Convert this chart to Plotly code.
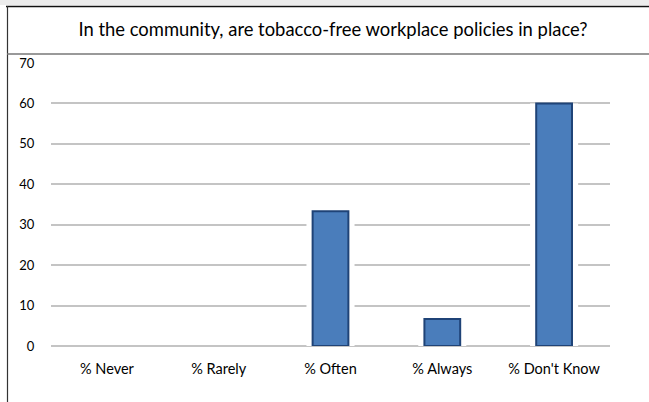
import plotly.graph_objects as go

categories = ["% Never", "% Rarely", "% Often", "% Always", "% Don't Know"]
values = [0, 0, 33.3, 6.7, 60]
y_ticks = [0, 10, 20, 30, 40, 50, 60, 70]
title_text = "In the community, are tobacco-free workplace policies in place?"

W, H = 649, 402
ML, MR, MT, MB = 51, 39, 63, 56
PW, PH = W - ML - MR, H - MT - MB

border_widths = [2 if v > 0 else 0 for v in values]

fig = go.Figure()
# soft white halo behind bars (gridlines break around bars in the original)
fig.add_trace(go.Bar(x=categories, y=values, width=0.43,
                     marker=dict(color="white", line=dict(width=0)),
                     hoverinfo="skip", showlegend=False))
fig.add_trace(go.Bar(x=categories, y=values, width=0.32,
                     marker=dict(color="#4a7dbb", line=dict(color="#1f4377", width=border_widths)),
                     showlegend=False))


def px_x(px):
    return (px - ML) / PW


def px_y(py):
    return (H - MB - py) / PH


fig.update_layout(
    width=W, height=H,
    barmode="overlay",
    paper_bgcolor="white", plot_bgcolor="white",
    margin=dict(l=ML, r=MR, t=MT, b=MB),
    font=dict(family="Lato, Liberation Sans, sans-serif", color="#000000"),
    title=dict(text=title_text, x=px_x(333), xref="paper", y=1 - 30 / H, yref="container",
               xanchor="center", yanchor="middle",
               font=dict(size=18.4, color="#000000")),
    xaxis=dict(showgrid=False, zeroline=False, showline=False,
               ticks="outside", ticklen=10, tickcolor="rgba(0,0,0,0)",
               tickfont=dict(size=14.5, color="#000000")),
    yaxis=dict(range=[0, 70], tickvals=y_ticks, showgrid=True,
               gridcolor="#c4c4c4", gridwidth=1.6,
               zeroline=True, zerolinecolor="#c4c4c4", zerolinewidth=1.6,
               showline=False, ticks="outside", ticklen=13,
               tickcolor="rgba(0,0,0,0)",
               tickfont=dict(size=13, color="#000000")),
    shapes=[
        dict(type="rect", xref="paper", yref="paper", x0=px_x(0), x1=px_x(W),
             y0=px_y(5), y1=px_y(0), fillcolor="#ececec", line=dict(width=0), layer="below"),
        dict(type="line", xref="paper", yref="paper", x0=px_x(6), x1=px_x(W),
             y0=px_y(6.5), y1=px_y(6.5), line=dict(color="#111111", width=1.5)),
        dict(type="line", xref="paper", yref="paper", x0=px_x(7.5), x1=px_x(7.5),
             y0=px_y(H), y1=px_y(6), line=dict(color="#333333", width=1.2)),
        dict(type="line", xref="paper", yref="paper", x0=px_x(7), x1=px_x(W),
             y0=px_y(54), y1=px_y(54), line=dict(color="#777777", width=1.5)),
    ],
)

fig.write_html("out.html", config={"displayModeBar": False},
               post_script="document.body.style.margin='0';document.body.style.overflow='hidden';")
